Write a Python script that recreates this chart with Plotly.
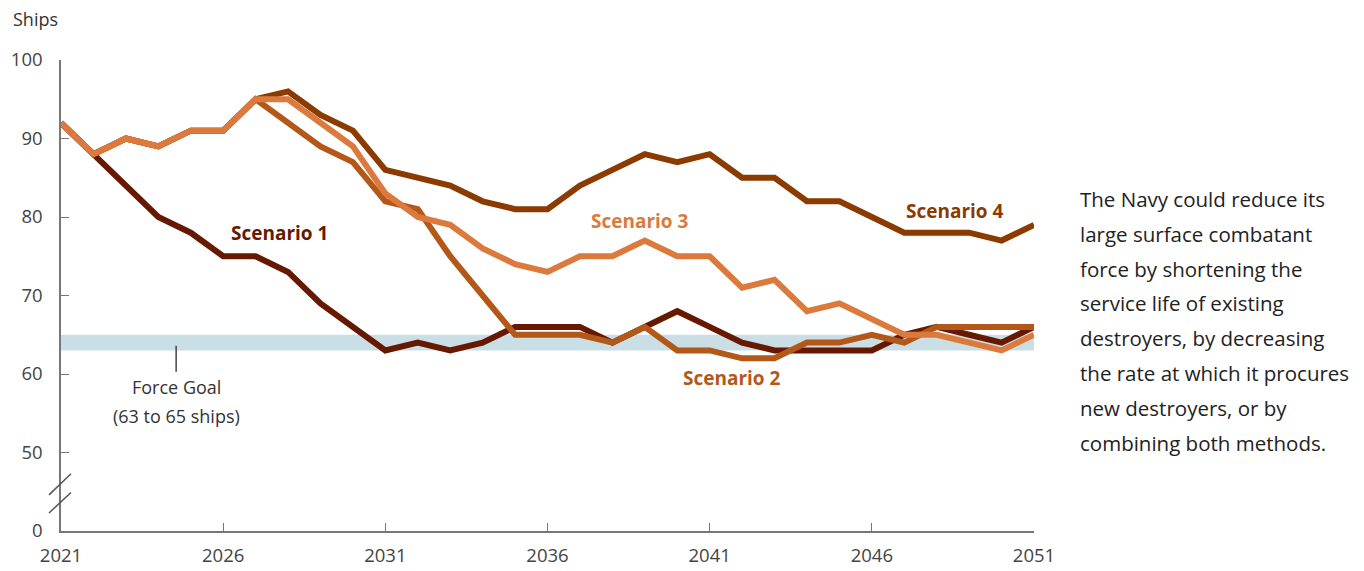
import plotly.graph_objects as go

years = list(range(2021, 2052))
scenario1 = [92, 88, 84, 80, 78, 75, 75, 73, 69, 66, 63, 64, 63, 64, 66, 66, 66, 64, 66, 68,
             66, 64, 63, 63, 63, 63, 65, 66, 65, 64, 66]
scenario2 = [92, 88, 90, 89, 91, 91, 95, 92, 89, 87, 82, 81, 75, 70, 65, 65, 65, 64, 66, 63,
             63, 62, 62, 64, 64, 65, 64, 66, 66, 66, 66]
scenario3 = [92, 88, 90, 89, 91, 91, 95, 95, 92, 89, 83, 80, 79, 76, 74, 73, 75, 75, 77, 75,
             75, 71, 72, 68, 69, 67, 65, 65, 64, 63, 65]
scenario4 = [92, 88, 90, 89, 91, 91, 95, 96, 93, 91, 86, 85, 84, 82, 81, 81, 84, 86, 88, 87,
             88, 85, 85, 82, 82, 80, 78, 78, 78, 77, 79]
goal_low, goal_high = 63, 65
y_tickvals = [40, 50, 60, 70, 80, 90, 100]
y_ticktext = ["0", "50", "60", "70", "80", "90", "100"]
x_tickvals = [2021, 2026, 2031, 2036, 2041, 2046, 2051]
note_lines = ["The Navy could reduce its", "large surface combatant", "force by shortening the",
              "service life of existing", "destroyers, by decreasing",
              "the rate at which it procures", "new destroyers, or by",
              "combining both methods."]

C1, C2, C3, C4 = "#661900", "#B4581A", "#DB7A3C", "#8B3A00"
FONT = "Open Sans"

# page body has an 8px default margin; compensate so plot area lands at 61..1034 x 60..531
OFF = 8
L, T, PW, PH = 61 - OFF, 60 - OFF, 973, 471
W, H = 1364 - OFF, 571 - OFF


def px_x(px):
    return (px - 61) / PW


def px_y(py):
    return 1 - (py - 60) / PH


fig = go.Figure()
for name, vals, col in [("Scenario 1", scenario1, C1), ("Scenario 4", scenario4, C4),
                        ("Scenario 2", scenario2, C2), ("Scenario 3", scenario3, C3)]:
    fig.add_trace(go.Scatter(x=years, y=vals, mode="lines", name=name,
                             line=dict(color=col, width=6), showlegend=False))

fig.add_shape(type="rect", x0=2021, x1=2051, y0=goal_low, y1=goal_high, xref="x", yref="y",
              fillcolor="#CADFE5", line=dict(width=0), layer="below")

# Force goal callout
fig.add_shape(type="line", x0=2024.55, x1=2024.55, y0=63.6, y1=60.3, xref="x", yref="y",
              line=dict(color="#444", width=1.5))
fig.add_annotation(x=2024.55, y=58.3, xref="x", yref="y", text="Force Goal", showarrow=False,
                   font=dict(family=FONT, size=18, color="#333"))
fig.add_annotation(x=2024.55, y=54.7, xref="x", yref="y", text="(63 to 65 ships)", showarrow=False,
                   font=dict(family=FONT, size=18, color="#333"))

# Scenario labels
for txt, x, y, col in [("Scenario 1", 2027.75, 77.9, C1), ("Scenario 3", 2038.85, 79.5, C3),
                       ("Scenario 4", 2048.57, 80.8, C4), ("Scenario 2", 2041.7, 59.55, C2)]:
    fig.add_annotation(x=x, y=y, xref="x", yref="y", text="<b>%s</b>" % txt, showarrow=False,
                       font=dict(family=FONT, size=19, color=col))

# axis break marks
for ya, yb in [(44.6, 47.3), (42.3, 44.9)]:
    fig.add_shape(type="line", xref="paper", yref="y", x0=px_x(49), x1=px_x(71), y0=ya, y1=yb,
                  line=dict(color="#555", width=1.5))

# Ships label
fig.add_annotation(x=px_x(12), y=px_y(19), xref="paper", yref="paper", text="Ships",
                   showarrow=False, xanchor="left", yanchor="middle", borderpad=0,
                   font=dict(family=FONT, size=18, color="#333"))

# right note
for i, line in enumerate(note_lines):
    ypx = 199 + i * 34.8
    fig.add_annotation(x=px_x(1078), y=px_y(ypx), xref="paper", yref="paper",
                       text=line, showarrow=False, xanchor="left", yanchor="middle",
                       font=dict(family=FONT, size=20.5, color="#222"))

fig.update_layout(
    width=W, height=H, margin=dict(l=L, r=W - L - PW, t=T, b=H - T - PH, autoexpand=False),
    plot_bgcolor="white", paper_bgcolor="white",
    font=dict(family=FONT, size=18.5, color="#444"),
    xaxis=dict(range=[2021, 2051], tickvals=x_tickvals, ticks="inside", ticklen=8,
               tickcolor="#777", showline=True, linecolor="#777", linewidth=1.5,
               showgrid=False, zeroline=False, ticklabelstandoff=7,
               tickfont=dict(size=18.5, color="#444")),
    yaxis=dict(range=[40, 100], tickvals=y_tickvals, ticktext=y_ticktext, ticks="inside",
               ticklen=8, tickcolor="#777", showline=True, linecolor="#777", linewidth=1.5,
               showgrid=False, zeroline=False, ticklabelstandoff=13,
               tickfont=dict(size=18.5, color="#444")),
)
fig.write_html("out.html")
